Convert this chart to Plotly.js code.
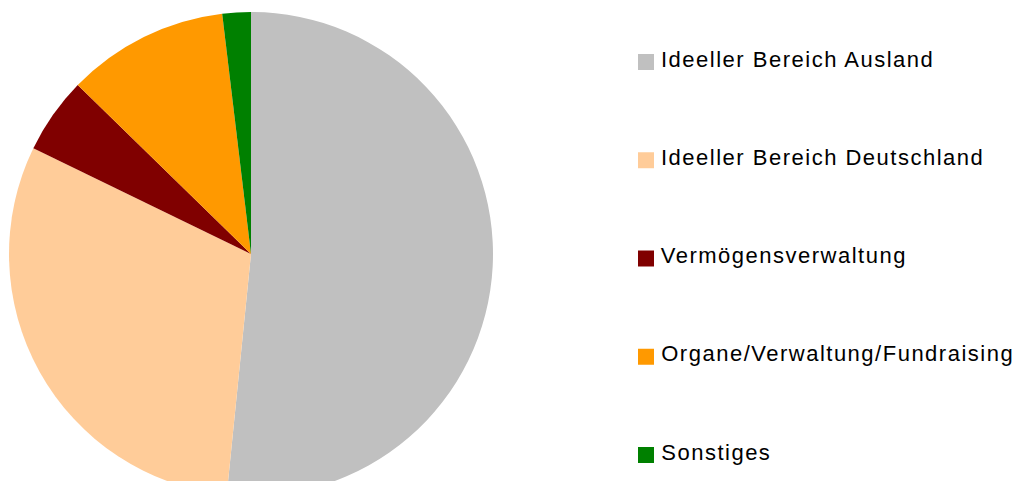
<!DOCTYPE html>
<html>
<head>
<meta charset="utf-8">
<script src="https://cdn.plot.ly/plotly-3.0.1.min.js"></script>
<style>
html, body { margin: 0; padding: 0; background: #fff; overflow: hidden; }
#wrap { width: 1015px; height: 481px; overflow: hidden; }
#chart { width: 1015px; height: 500px; }
#chart .annotation-text { letter-spacing: 1.5px; }
</style>
</head>
<body>
<div id="wrap"><div id="chart"></div></div>
<script>
const labels = ["Ideeller Bereich Ausland", "Ideeller Bereich Deutschland", "Vermögensverwaltung", "Organe/Verwaltung/Fundraising", "Sonstiges"];
const values = [51.6, 30.6, 5.1, 10.8, 1.9];
const colors = ["#c0c0c0", "#ffcc99", "#800000", "#ff9900", "#008000"];

const W = 1015, H = 500;
const SPACING = 1.5;
const px = x => x / W;
const py = y => 1 - y / H;

const annotations = [];
const shapes = [];
labels.forEach((lab, i) => {
  const cy = 62 + i * 98.25;
  shapes.push({
    type: "rect", xref: "paper", yref: "paper",
    x0: px(638), x1: px(654), y0: py(cy + 8), y1: py(cy - 8),
    fillcolor: colors[i], line: { width: 0 }
  });
  annotations.push({
    xref: "paper", yref: "paper", x: px(659 + SPACING * lab.length / 2), y: py(cy - 3),
    xanchor: "left", yanchor: "middle", showarrow: false,
    text: lab, font: { family: "Liberation Sans, Arial, sans-serif", size: 22, color: "#000" }
  });
});

const data = [{
  type: "pie",
  labels: labels,
  values: values,
  marker: { colors: colors, line: { width: 0 } },
  sort: false,
  direction: "clockwise",
  rotation: 0,
  textinfo: "none",
  hoverinfo: "label+percent",
  domain: { x: [9 / W, 493 / W], y: [4 / H, 488 / H] }
}];

const layout = {
  width: W, height: H,
  margin: { l: 0, r: 0, t: 0, b: 0 },
  paper_bgcolor: "#fff",
  showlegend: false,
  annotations: annotations,
  shapes: shapes
};

Plotly.newPlot("chart", data, layout, { displayModeBar: false, staticPlot: true });
</script>
</body>
</html>
